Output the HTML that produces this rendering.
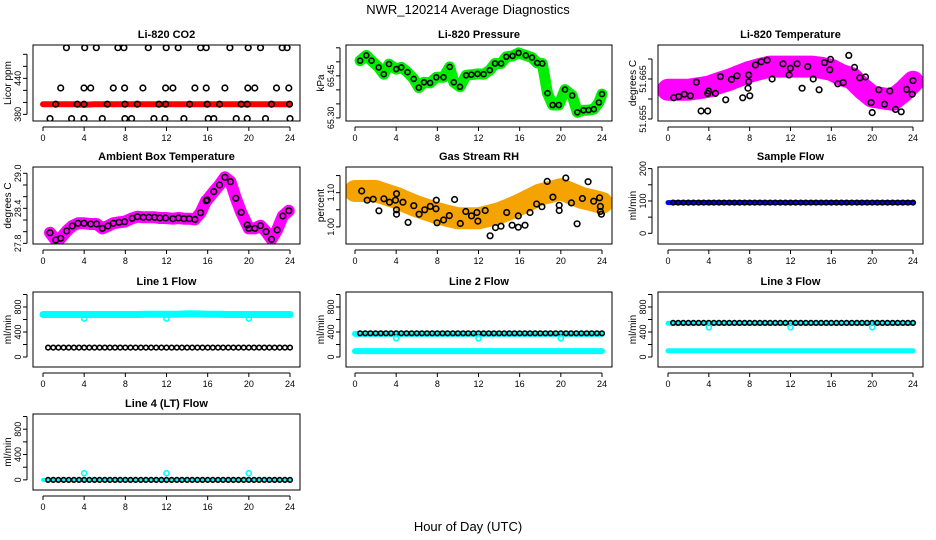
<!DOCTYPE html>
<html><head><meta charset="utf-8">
<style>
html,body{margin:0;padding:0;background:#fff;}
svg{display:block;font-family:"Liberation Sans",sans-serif;}
</style></head>
<body>
<svg id="chart" width="936" height="540" viewBox="0 0 936 540">
<defs id="defs"></defs>
<text x="468" y="14" text-anchor="middle" font-size="13">NWR_120214  Average Diagnostics</text>
<text x="468" y="531" text-anchor="middle" font-size="13">Hour of Day (UTC)</text>
</svg>
<script>
// ---------- data ----------
const HOUR_TICKS = [0,4,8,12,16,20,24];
const TRACE_H = [0,1,2,3,4,5,6,7,8,9,10,11,12,13,14,15,16,17,18,19,20,21,22,23,24];
const FLOW_H = [0.5,1,1.5,2,2.5,3,3.5,4,4.5,5,5.5,6,6.5,7,7.5,8,8.5,9,9.5,10,10.5,11,11.5,12,12.5,13,13.5,14,14.5,15,15.5,16,16.5,17,17.5,18,18.5,19,19.5,20,20.5,21,21.5,22,22.5,23,23.5,24];
const DIP_H = [4,12,20];

const CO2_H = [2.27,4.05,5.18,7.28,7.86,10.23,11.97,13.14,15.31,15.86,18.16,19.94,21.13,23.24,23.72,
 1.72,3.98,4.63,6.83,7.93,9.71,11.91,12.62,14.76,15.86,17.67,19.90,20.58,22.69,23.88,
 1.23,3.33,3.98,6.25,7.96,9.16,11.26,11.91,14.24,15.95,17.15,19.26,19.84,22.20,23.95,
 0.68,2.78,3.98,5.76,7.96,8.61,10.78,11.84,13.69,16.05,16.60,18.77,19.84,21.62,24.0];
const CO2_V = [491,491,491,491,491,491,491,491,491,491,491,491,491,491,491,
 424,424,424,424,424,424,424,424,424,424,424,424,424,424,424,
 397,397,397,397,397,397,397,397,397,397,397,397,397,397,397,
 373,373,373,373,373,373,373,373,373,373,373,373,373,373,373];
const CO2_TRACE = [397,397,397,397,396,397,397,397,397,397,397,397,397,397,397,397,397,397,397,397,397,397,397,397,397];

const PRES_H = [0.5,1.1,1.6,2.3,2.8,3.3,4.0,4.5,5.1,5.7,6.2,6.7,7.3,7.9,8.6,9.2,9.6,10.2,10.8,11.3,11.9,12.5,13.1,13.6,14.2,14.7,15.3,15.9,16.6,17.2,17.7,18.2,18.7,19.2,19.8,20.4,21.1,21.6,22.2,22.7,23.2,23.7,24.0];
const PRES_V = [65.504,65.523,65.504,65.480,65.456,65.492,65.474,65.480,65.463,65.439,65.408,65.427,65.425,65.445,65.445,65.482,65.427,65.411,65.452,65.454,65.457,65.456,65.470,65.494,65.494,65.518,65.521,65.532,65.523,65.515,65.496,65.494,65.388,65.346,65.346,65.401,65.380,65.320,65.327,65.328,65.331,65.355,65.385];

const TEMP_TRACE = [51.6623,51.6623,51.6623,51.6627,51.6631,51.6640,51.6648,51.6658,51.6668,51.6675,51.6681,51.6681,51.6681,51.6681,51.6681,51.6678,51.6673,51.6660,51.6652,51.6627,51.6606,51.6602,51.6598,51.6618,51.6643];
const TEMP_H = [0.56,1.05,1.60,2.19,2.78,3.24,3.89,3.89,3.99,4.64,5.13,5.65,6.21,6.76,7.32,7.84,7.91,8.01,7.91,8.56,9.12,9.71,10.20,11.27,11.86,11.99,12.65,13.14,13.69,14.22,14.80,15.33,15.92,15.85,16.63,17.16,17.71,18.27,18.79,19.35,19.90,20.00,20.65,21.21,21.73,22.29,22.84,23.37,23.92,24.0];
const TEMP_V = [51.6603,51.6606,51.6612,51.6608,51.6642,51.6570,51.6570,51.6614,51.6620,51.6614,51.6656,51.6598,51.6649,51.6658,51.6603,51.6627,51.6643,51.6608,51.6660,51.6685,51.6693,51.6697,51.6650,51.6688,51.6660,51.6677,51.6688,51.6627,51.6681,51.6650,51.6623,51.6691,51.6699,51.6673,51.6638,51.6641,51.6709,51.6679,51.6653,51.6655,51.6591,51.6566,51.6623,51.6587,51.6620,51.6574,51.6568,51.6624,51.6612,51.6646];

const AMB_H = [0.68,1.23,1.72,2.30,2.85,3.40,3.98,4.63,5.21,5.76,6.31,6.83,7.38,7.93,8.67,9.16,9.74,10.29,10.84,11.36,11.91,12.62,13.17,13.69,14.21,14.76,15.31,15.86,15.95,16.60,17.15,17.67,18.22,18.74,19.26,19.84,20.00,20.58,21.13,21.68,22.20,22.75,23.30,23.88];
const AMB_V = [27.983,27.857,27.886,28.011,28.097,28.143,28.143,28.131,28.131,28.057,28.097,28.143,28.160,28.171,28.229,28.257,28.246,28.246,28.246,28.234,28.234,28.223,28.234,28.223,28.223,28.211,28.326,28.531,28.543,28.686,28.800,28.931,28.857,28.571,28.331,28.114,28.057,28.057,28.103,28.000,27.869,28.029,28.269,28.360];

const RH_TRACE = [1.105,1.105,1.105,1.095,1.085,1.072,1.060,1.050,1.040,1.032,1.025,1.025,1.025,1.032,1.040,1.052,1.065,1.080,1.095,1.102,1.110,1.098,1.085,1.078,1.070];
const RH_H = [0.65,1.19,1.77,2.32,2.81,3.35,3.94,4.03,4.03,4.03,4.65,5.16,5.71,6.23,6.77,7.32,7.87,7.90,7.97,8.61,9.16,9.68,10.23,10.77,11.32,11.84,11.94,12.65,13.13,13.65,14.19,14.74,15.26,15.87,15.87,16.52,17.00,17.65,18.16,18.68,19.23,19.84,19.84,20.48,21.03,21.58,22.10,22.65,23.19,23.77,23.84,23.84,23.94];
const RH_V = [1.105,1.078,1.081,1.047,1.082,1.072,1.078,1.097,1.050,1.037,1.072,1.013,1.062,1.037,1.050,1.060,1.053,1.078,1.012,1.020,1.033,1.080,1.010,1.045,1.032,1.042,1.017,1.048,0.974,0.998,1.002,1.042,1.005,1.032,0.999,1.005,1.042,1.067,1.059,1.133,1.087,1.063,1.048,1.143,1.070,1.009,1.083,1.132,1.075,1.085,1.060,1.045,1.037];

const SAMPLE_TRACE = [95,95,95,95,95,95,95,95,95,95,95,95,95,95,95,95,95,95,95,95,95,95,95,95,95];
const SAMPLE_BLACK = [95,95,95,95,95,95,95,95,95,95,95,95,95,95,95,95,95,95,95,95,95,95,95,95,95,95,95,95,95,95,95,95,95,95,95,95,95,95,95,95,95,95,95,95,95,95,95,95];

const LINE1_CYAN = [680,680,680,680,680,680,680,680,680,680,685,685,685,685,690,690,685,685,680,680,680,680,680,680,680];
const LINE1_BLACK = [150,150,150,150,150,150,150,150,150,150,150,150,150,150,150,150,150,150,150,150,150,150,150,150,150,150,150,150,150,150,150,150,150,150,150,150,150,150,150,150,150,150,150,150,150,150,150,150];
const LINE1_DIP = [615,615,615];

const LINE2_CYAN_LOW = [95,95,95,95,95,95,95,95,95,95,95,95,95,95,95,95,95,95,95,95,95,95,95,95,95];
const LINE2_CYAN_HIGH = [370,370,370,370,370,370,370,370,370,370,370,370,370,370,370,370,370,370,370,370,370,370,370,370,370];
const LINE2_BLACK = [380,380,380,380,380,380,380,380,380,380,380,380,380,380,380,380,380,380,380,380,380,380,380,380,380,380,380,380,380,380,380,380,380,380,380,380,380,380,380,380,380,380,380,380,380,380,380,380];
const LINE2_DIP = [300,300,300];

const LINE3_CYAN_LOW = [100,100,100,100,100,100,100,100,100,100,100,100,100,100,100,100,100,100,100,100,100,100,100,100,100];
const LINE3_CYAN_HIGH = [540,540,540,540,540,540,540,540,540,540,540,540,540,540,540,540,540,540,540,540,540,540,540,540,540];
const LINE3_BLACK = [545,545,545,545,545,545,545,545,545,545,545,545,545,545,545,545,545,545,545,545,545,545,545,545,545,545,545,545,545,545,545,545,545,545,545,545,545,545,545,545,545,545,545,545,545,545,545,545];
const LINE3_DIP = [475,475,475];

const LINE4_CYAN = [0,0,0,0,0,0,0,0,0,0,0,0,0,0,0,0,0,0,0,0,0,0,0,0,0];
const LINE4_BLACK = [0,0,0,0,0,0,0,0,0,0,0,0,0,0,0,0,0,0,0,0,0,0,0,0,0,0,0,0,0,0,0,0,0,0,0,0,0,0,0,0,0,0,0,0,0,0,0,0];
const LINE4_DIP = [105,105,105];

// ---------- drawing ----------
const NS = 'http://www.w3.org/2000/svg';
const svg = document.getElementById('chart');
const defs = document.getElementById('defs');
function mk(tag, attrs, parent){
  const e = document.createElementNS(NS, tag);
  for (const k in attrs) e.setAttribute(k, attrs[k]);
  parent.appendChild(e);
  return e;
}
const COLS = [{l:33,r:300,x0:43,x1:290},{l:346,r:612,x0:355,x1:602},{l:658,r:923,x0:668,x1:913}];
const ROWS = [{t:45,b:121},{t:167,b:244},{t:292,b:367},{t:414,b:490}];
let clipN = 0;

function panel(p){
  const c = COLS[p.col], r = ROWS[p.row];
  const g = mk('g', {}, svg);
  
  
  const sx = h => c.x0 + (h/24)*(c.x1-c.x0);
  const sy = v => r.b - (v - p.ymin)/(p.ymax - p.ymin)*(r.b - r.t);
  const cid = 'clip' + (clipN++);
  const cp = mk('clipPath', {id:cid}, defs);
  mk('rect', {x:c.l, y:r.t, width:c.r-c.l, height:r.b-r.t}, cp);
  const t = mk('text', {x:(c.l+c.r)/2, y:r.t-7, 'text-anchor':'middle', 'font-size':11, 'font-weight':'bold'}, g);
  t.textContent = p.title;
  
  
  const yl = mk('text', {x:0, y:0, 'text-anchor':'middle', 'font-size':10, transform:`translate(${c.l-22},${(r.t+r.b)/2}) rotate(-90)`}, g);
  yl.textContent = p.ylab;
  
  
  const plot = mk('g', {'clip-path':`url(#${cid})`}, g);
  
  
  (p.traces||[]).forEach(tr => {
    const pts = tr.v.map((v,i) => sx(tr.h[i]).toFixed(1)+','+sy(v).toFixed(1)).join(' ');
    const pl = mk('polyline', {points:pts, fill:'none', stroke:tr.color, 'stroke-width':tr.w, 'stroke-linecap':'round', 'stroke-linejoin':'round'}, plot);
    
    
  });
  (p.points||[]).forEach(ps => {
    ps.v.forEach((v,i) => {
      const ci = mk('circle', {cx:sx(ps.h[i]).toFixed(1), cy:sy(v).toFixed(1), r:ps.r||2.8, fill:'none', stroke:ps.color, 'stroke-width':1.6}, plot);
      
      
    });
  });
  const box = mk('rect', {x:c.l, y:r.t, width:c.r-c.l, height:r.b-r.t, fill:'none', stroke:'#000', 'stroke-width':1}, g);
  
  
  const xa = mk('g', {}, g);
  
  
  mk('line', {x1:sx(0), x2:sx(24), y1:r.b+6, y2:r.b+6, stroke:'#000'}, xa);
  HOUR_TICKS.forEach(h => {
    mk('line', {x1:sx(h), x2:sx(h), y1:r.b+6, y2:r.b+10, stroke:'#000'}, xa);
    const tl = mk('text', {x:sx(h), y:r.b+20, 'text-anchor':'middle', 'font-size':9}, xa);
    tl.textContent = h;
    
    
  });
  const ya = mk('g', {}, g);
  
  
  const ax = c.l - 6;
  mk('line', {x1:ax, x2:ax, y1:sy(p.yticks[0]), y2:sy(p.yticks[p.yticks.length-1]), stroke:'#000'}, ya);
  p.yticks.forEach(v => mk('line', {x1:ax-4, x2:ax, y1:sy(v), y2:sy(v), stroke:'#000'}, ya));
  p.ylabels.forEach((lab) => {
    const yy = sy(parseFloat(lab));
    const tl = mk('text', {x:0, y:0, 'text-anchor':'middle', 'font-size':9, transform:`translate(${ax-6},${yy}) rotate(-90)`}, ya);
    tl.textContent = lab;
    
    
  });
}

const flowTicks = [0,200,400,600,800,1000];
const flowLabels = ['0','400','800'];

panel({name:'co2-panel', col:0,row:0,title:'Li-820 CO2',ylab:'Licor ppm',ymin:369,ymax:495.5,
  yticks:[380,400,420,440,460,480], ylabels:['380','440'],
  traces:[{h:TRACE_H,v:CO2_TRACE,color:'#ff0000',w:6}],
  points:[{h:CO2_H,v:CO2_V,color:'#000'}]});
panel({name:'pressure-panel', col:1,row:0,title:'Li-820 Pressure',ylab:'kPa',ymin:65.289,ymax:65.56,
  yticks:[65.30,65.35,65.40,65.45,65.50,65.55], ylabels:['65.30','65.45'],
  traces:[{h:PRES_H,v:PRES_V,color:'#00ee00',w:11}],
  points:[{h:PRES_H,v:PRES_V,color:'#000',r:2.5}]});
panel({name:'li820-temperature-panel', col:2,row:0,title:'Li-820 Temperature',ylab:'degrees C',ymin:51.6545,ymax:51.6735,
  yticks:[51.655,51.660,51.665,51.670], ylabels:['51.655','51.665'],
  traces:[{h:TRACE_H,v:TEMP_TRACE,color:'#ff00ff',w:22}],
  points:[{h:TEMP_H,v:TEMP_V,color:'#000'}]});
panel({name:'ambient-temperature-panel', col:0,row:1,title:'Ambient Box Temperature',ylab:'degrees C',ymin:27.789,ymax:29.108,
  yticks:[27.8,28.0,28.2,28.4,28.6,28.8,29.0], ylabels:['27.8','28.4','29.0'],
  traces:[{h:AMB_H,v:AMB_V,color:'#ff00ff',w:12}],
  points:[{h:AMB_H,v:AMB_V,color:'#000'}]});
panel({name:'gas-rh-panel', col:1,row:1,title:'Gas Stream RH',ylab:'percent',ymin:0.95,ymax:1.175,
  yticks:[1.00,1.05,1.10,1.15], ylabels:['1.00','1.10'],
  traces:[{h:TRACE_H,v:RH_TRACE,color:'#f5a300',w:22}],
  points:[{h:RH_H,v:RH_V,color:'#000'}]});
panel({name:'sample-flow-panel', col:2,row:1,title:'Sample Flow',ylab:'ml/min',ymin:-33,ymax:205,
  yticks:[0,50,100,150,200], ylabels:['0','100','200'],
  traces:[{h:TRACE_H,v:SAMPLE_TRACE,color:'#0000ff',w:5}],
  points:[{h:FLOW_H,v:SAMPLE_BLACK,color:'#000',r:2.3}]});
panel({name:'line1-flow-panel', col:0,row:2,title:'Line 1 Flow',ylab:'ml/min',ymin:-160,ymax:1040,
  yticks:flowTicks, ylabels:flowLabels,
  traces:[{h:TRACE_H,v:LINE1_CYAN,color:'#00ffff',w:7}],
  points:[{h:FLOW_H,v:LINE1_BLACK,color:'#000',r:2.3},{h:DIP_H,v:LINE1_DIP,color:'#00ffff',r:2.5}]});
panel({name:'line2-flow-panel', col:1,row:2,title:'Line 2 Flow',ylab:'ml/min',ymin:-160,ymax:1040,
  yticks:flowTicks, ylabels:flowLabels,
  traces:[{h:TRACE_H,v:LINE2_CYAN_LOW,color:'#00ffff',w:6},{h:TRACE_H,v:LINE2_CYAN_HIGH,color:'#00ffff',w:6}],
  points:[{h:FLOW_H,v:LINE2_BLACK,color:'#000',r:2.3},{h:DIP_H,v:LINE2_DIP,color:'#00ffff',r:2.5}]});
panel({name:'line3-flow-panel', col:2,row:2,title:'Line 3 Flow',ylab:'ml/min',ymin:-160,ymax:1040,
  yticks:flowTicks, ylabels:flowLabels,
  traces:[{h:TRACE_H,v:LINE3_CYAN_LOW,color:'#00ffff',w:5},{h:TRACE_H,v:LINE3_CYAN_HIGH,color:'#00ffff',w:5}],
  points:[{h:FLOW_H,v:LINE3_BLACK,color:'#000',r:2.3},{h:DIP_H,v:LINE3_DIP,color:'#00ffff',r:2.5}]});
panel({name:'line4-flow-panel', col:0,row:3,title:'Line 4 (LT) Flow',ylab:'ml/min',ymin:-160,ymax:1040,
  yticks:flowTicks, ylabels:flowLabels,
  traces:[{h:TRACE_H,v:LINE4_CYAN,color:'#00ffff',w:4}],
  points:[{h:FLOW_H,v:LINE4_BLACK,color:'#000',r:2.3},{h:DIP_H,v:LINE4_DIP,color:'#00ffff',r:2.5}]});
</script>
</body></html>
